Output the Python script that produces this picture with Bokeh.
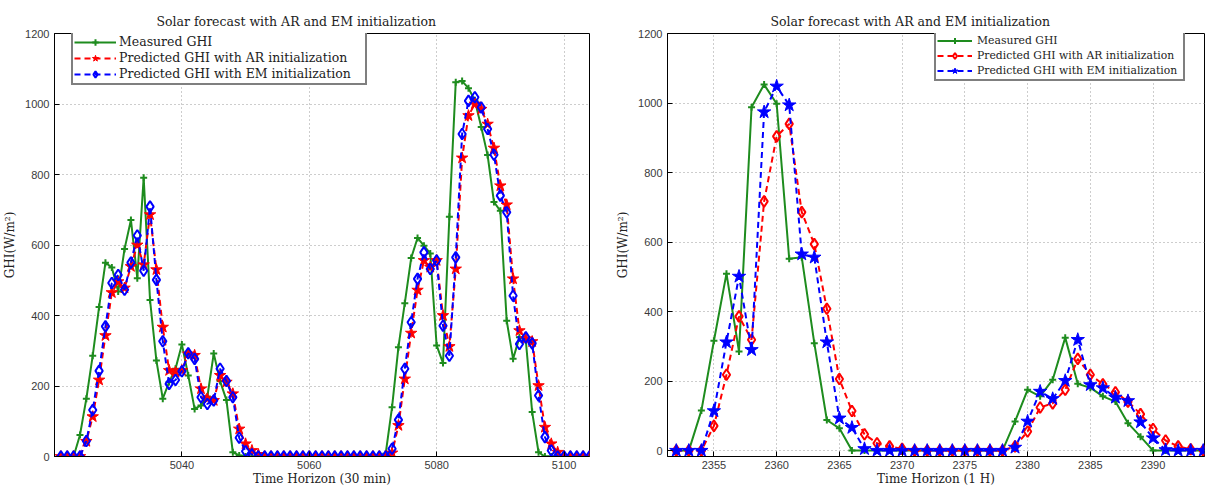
from bokeh.plotting import figure
from bokeh.layouts import row
from bokeh.models import Legend, LegendItem, Range1d, FixedTicker
from bokeh.embed import file_html
from bokeh.resources import INLINE

# ---------------- data: left panel (30 min horizon) ----------------
t_left = list(range(5021, 5105))
meas_left = [0, 0, 0, 61, 164, 286, 424, 550, 536, 468,
             589, 671, 506, 791, 444, 272, 164, 211, 249, 318,
             230, 135, 145, 170, 292, 214, 160, 12, 3, 0,
             0, 0, 0, 0, 0, 0, 0, 0, 0, 0,
             0, 0, 0, 0, 0, 0, 0, 0, 0, 0,
             0, 8, 140, 310, 435, 563, 620, 598, 576, 315,
             265, 680, 1062, 1065, 1045, 1010, 935, 855, 722, 697,
             385, 277, 338, 329, 126, 12, 0, 0, 0, 0,
             0, 0, 0, 0]
ar_left = [0, 0, 0, 0, 43, 113, 217, 343, 465, 496,
           478, 539, 600, 544, 686, 530, 367, 244, 239, 244,
           291, 287, 192, 164, 159, 230, 211, 178, 78, 36,
           17, 6, 0, 0, 0, 0, 0, 0, 0, 0,
           0, 0, 0, 0, 0, 0, 0, 0, 0, 0,
           0, 0, 10, 88, 220, 350, 472, 556, 537, 556,
           400, 312, 532, 847, 967, 1000, 985, 943, 875, 768,
           714, 504, 357, 334, 326, 201, 83, 36, 12, 0,
           0, 0, 0, 0]
em_left = [0, 0, 0, 0, 44, 132, 243, 369, 492, 515,
           473, 550, 627, 527, 709, 501, 327, 206, 217, 242,
           293, 277, 168, 149, 159, 249, 214, 168, 53, 15,
           6, 0, 0, 0, 0, 0, 0, 0, 0, 0,
           0, 0, 0, 0, 0, 0, 0, 0, 0, 0,
           0, 0, 22, 104, 249, 381, 504, 579, 532, 556,
           371, 286, 565, 915, 1009, 1019, 990, 929, 856, 740,
           693, 456, 319, 338, 321, 173, 55, 17, 0, 0,
           0, 0, 0, 0]

# ---------------- data: right panel (1 H horizon) ----------------
t_right = list(range(2352, 2395))
meas_right = [0, 0, 115, 316, 509, 285, 988, 1053, 998, 552,
              556, 309, 88, 64, 0, 0, 0, 0, 0, 0,
              0, 0, 0, 0, 0, 0, 0, 84, 175, 156,
              204, 325, 192, 181, 156, 141, 79, 40, 0, 0,
              0, 0, 0]
ar_right = [0, 0, 0, 71, 218, 386, 319, 717, 904, 940,
            686, 594, 408, 206, 114, 47, 21, 12, 5, 0,
            0, 0, 0, 0, 0, 0, 0, 12, 55, 124,
            136, 175, 264, 218, 191, 168, 141, 105, 62, 29,
            12, 4, 0]
em_right = [0, 0, 0, 114, 312, 501, 290, 974, 1048, 994,
            565, 556, 312, 93, 66, 5, 0, 0, 0, 0,
            0, 0, 0, 0, 0, 0, 0, 9, 84, 170,
            149, 201, 319, 189, 180, 153, 143, 82, 36, 2,
            0, 0, 0]

x_ticks_left = [5040, 5060, 5080, 5100]
x_ticks_right = [2355, 2360, 2365, 2370, 2375, 2380, 2385, 2390]
y_ticks = [0, 200, 400, 600, 800, 1000, 1200]

title_text = "Solar forecast with AR and EM initialization"
labels = ["Measured GHI", "Predicted GHI with AR initialization",
          "Predicted GHI with EM initialization"]

GREEN = "#1e8c1e"
RED = "#ff0000"
BLUE = "#0000ff"
SERIF = "DejaVu Serif"
SANS = "Liberation Sans"


def style(p, xticks):
    p.title.text_font = SERIF
    p.title.text_font_size = "12.5px"
    p.title.text_font_style = "normal"
    p.title.text_color = "#222222"
    p.title.align = "left"
    p.title.standoff = 10
    for ax in (p.xaxis[0], p.yaxis[0]):
        ax.major_tick_in = 5
        ax.major_tick_out = 0
        ax.minor_tick_line_color = None
        ax.axis_line_color = "black"
        ax.axis_line_width = 1
        ax.major_tick_line_color = "black"
        ax.major_label_text_font = SANS
        ax.major_label_text_font_size = "11px"
        ax.major_label_text_color = "#3a3a3a"
        ax.axis_label_text_font = SERIF
        ax.axis_label_text_font_size = "12px"
        ax.axis_label_text_font_style = "normal"
        ax.axis_label_text_color = "#222222"
    p.xaxis[0].ticker = FixedTicker(ticks=xticks)
    p.yaxis[0].ticker = FixedTicker(ticks=y_ticks)
    p.xaxis[0].major_label_standoff = 4
    p.xaxis[0].axis_label_standoff = 0
    p.yaxis[0].major_label_standoff = 5
    p.yaxis[0].axis_label_standoff = 5
    p.xgrid.ticker = FixedTicker(ticks=xticks)
    p.ygrid.ticker = FixedTicker(ticks=y_ticks)
    for g in (p.xgrid[0], p.ygrid[0]):
        g.grid_line_color = "#9a9a9a"
        g.grid_line_dash = "1 3"
        g.grid_line_width = 1
    p.outline_line_color = "black"
    p.outline_line_width = 1
    p.outline_line_alpha = 1
    p.background_fill_color = "white"
    p.border_fill_color = "white"


def style_legend(leg, font_size, gw, h, lw, standoff):
    leg.label_text_font = SERIF
    leg.label_text_font_size = font_size
    leg.label_text_color = "#222222"
    leg.glyph_width = gw
    leg.glyph_height = h
    leg.label_height = h
    leg.label_standoff = standoff
    leg.label_width = lw
    leg.spacing = 0
    leg.padding = 1
    leg.margin = 0
    leg.border_line_color = "black"
    leg.border_line_width = 2
    leg.background_fill_color = "white"
    leg.background_fill_alpha = 1


# ---------------- left figure ----------------
p1 = figure(frame_width=535, frame_height=423, output_backend="svg",
            toolbar_location=None, title=title_text,
            x_range=Range1d(5020, 5104), y_range=Range1d(0, 1200),
            min_border_left=53, min_border_right=12,
            min_border_top=33, min_border_bottom=32)
style(p1, x_ticks_left)
p1.title.offset = 102
p1.xaxis[0].axis_label = "Time Horizon (30 min)"
p1.yaxis[0].axis_label = "GHI(W/m²)"

g_l = p1.line(t_left, meas_left, line_color=GREEN, line_width=2)
g_s = p1.scatter(t_left, meas_left, marker="cross", size=7,
                 line_color=GREEN, line_width=2)
r_l = p1.line(t_left, ar_left, line_color=RED, line_width=2, line_dash="6 4")
r_s = p1.scatter(t_left, ar_left, marker="star", size=12,
                 line_color=RED, fill_color=RED, line_width=1)
b_l = p1.line(t_left, em_left, line_color=BLUE, line_width=2, line_dash="6 4")
b_s = p1.scatter(t_left, em_left, marker="diamond", size=11,
                 line_color=BLUE, fill_color=None, line_width=2)

leg1 = Legend(items=[LegendItem(label=labels[0], renderers=[g_l, g_s]),
                     LegendItem(label=labels[1], renderers=[r_l, r_s]),
                     LegendItem(label=labels[2], renderers=[b_l, b_s])],
              location=(17, 371.5))
style_legend(leg1, "12.5px", 42, 16, 245, 3)
p1.add_layout(leg1)

# ---------------- right figure ----------------
p2 = figure(frame_width=537, frame_height=423, output_backend="svg",
            toolbar_location=None, title=title_text,
            x_range=Range1d(2351.3, 2394.1), y_range=Range1d(-17, 1200),
            min_border_left=66, min_border_right=5,
            min_border_top=32, min_border_bottom=33)
style(p2, x_ticks_right)
p2.title.offset = 103
p2.xaxis[0].axis_label = "Time Horizon (1 H)"
p2.yaxis[0].axis_label = "GHI(W/m²)"

g2_l = p2.line(t_right, meas_right, line_color=GREEN, line_width=2)
g2_s = p2.scatter(t_right, meas_right, marker="cross", size=7,
                  line_color=GREEN, line_width=2)
r2_l = p2.line(t_right, ar_right, line_color=RED, line_width=2, line_dash="6 4")
r2_s = p2.scatter(t_right, ar_right, marker="diamond", size=11,
                  line_color=RED, fill_color=None, line_width=2)
b2_l = p2.line(t_right, em_right, line_color=BLUE, line_width=2, line_dash="6 4")
b2_s = p2.scatter(t_right, em_right, marker="star", size=14,
                  line_color=BLUE, fill_color=BLUE, line_width=1)

leg2 = Legend(items=[LegendItem(label=labels[0], renderers=[g2_l, g2_s]),
                     LegendItem(label=labels[1], renderers=[r2_l, r2_s]),
                     LegendItem(label=labels[2], renderers=[b2_l, b2_s])],
              location=(267, 375.5))
style_legend(leg2, "10.8px", 35, 15, 205, 5)
p2.add_layout(leg2)

layout = row(p1, p2, spacing=0)
open("out.html", "w").write(file_html(layout, INLINE))
